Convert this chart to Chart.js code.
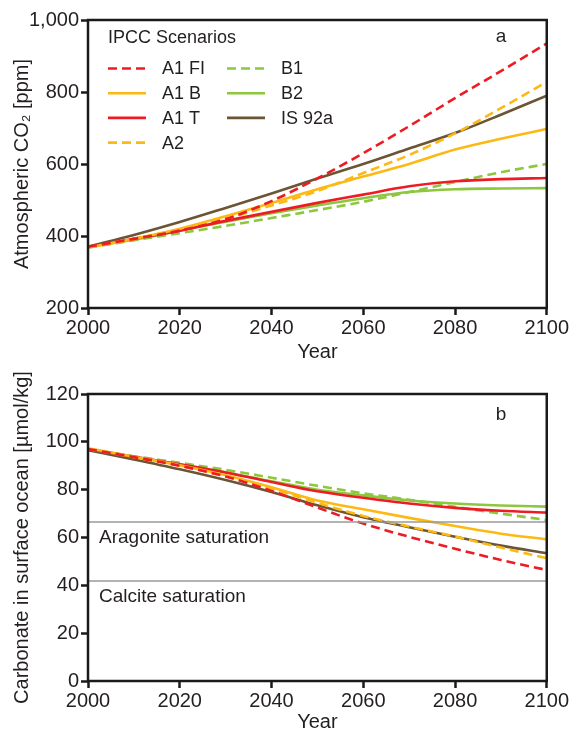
<!DOCTYPE html>
<html>
<head>
<meta charset="utf-8">
<script src="https://cdn.jsdelivr.net/npm/chart.js@4/dist/chart.umd.min.js"></script>
<style>
  html, body { margin: 0; padding: 0; background: #fff; }
  #wrap { position: relative; width: 570px; height: 734px; }
  canvas { position: absolute; left: 0; }
  #co2 { top: 0; }
  #carb { top: 367px; }
</style>
</head>
<body>
<div id="wrap">
  <canvas id="co2" width="570" height="367"></canvas>
  <canvas id="carb" width="570" height="367"></canvas>
</div>
<script>
// years sampled every decade
const years = [2000, 2010, 2020, 2030, 2040, 2050, 2060, 2070, 2080, 2090, 2100];
const xTicks = [2000, 2020, 2040, 2060, 2080, 2100];

// atmospheric CO2 [ppm]
const co2_A1FI = [370, 392, 415, 447, 497, 560, 630, 705, 783, 858, 935];
const co2_A1B  = [368, 392, 420, 455, 492, 530, 565, 600, 640, 670, 697];
const co2_A1T  = [370, 392, 415, 442, 467, 492, 515, 538, 552, 558, 561];
const co2_A2   = [368, 392, 418, 448, 485, 525, 575, 625, 685, 755, 828];
const co2_B1   = [368, 388, 408, 428, 450, 472, 495, 522, 550, 577, 600];
const co2_B2   = [370, 390, 415, 440, 463, 485, 505, 522, 530, 532, 533];
const co2_IS92a = [370, 403, 439, 478, 518, 560, 600, 643, 686, 737, 790];
const co2Ticks = [200, 400, 600, 800, 1000];

// carbonate in surface ocean [umol/kg]
const carb_A1FI = [97, 93.6, 90, 85.5, 79.5, 72.5, 65.8, 60.3, 55.3, 50.6, 46.4];
const carb_A1B  = [97.3, 93.8, 90.2, 86, 81, 75.5, 71.8, 68.2, 64.8, 61.6, 59.2];
const carb_A1T  = [97, 93.8, 90.6, 87.2, 83.2, 79.3, 76.6, 74.2, 72.4, 71.2, 70.4];
const carb_A2   = [97, 93.6, 90, 85.6, 80.5, 74.5, 69, 64.6, 60.4, 55.8, 51.3];
const carb_B1   = [97, 94, 91.2, 88.3, 85, 81.6, 78.5, 75.8, 72.8, 70, 67.3];
const carb_B2   = [97, 93.8, 90.5, 87.3, 83.5, 80, 77.6, 75.5, 74.2, 73.4, 72.9];
const carb_IS92a = [96.5, 92.6, 88.5, 84, 79, 73.5, 68.5, 64.3, 60.3, 56.6, 53.4];
const carbTicks = [0, 20, 40, 60, 80, 100, 120];

const aragonite = 66.5;
const calcite = 41.8;

const RED = '#ed1c24', YEL = '#fdb913', GRN = '#8dc63f', BRN = '#6b5535';
const DASH = [9, 5];
const FONT = '"Liberation Sans", Arial, Helvetica, sans-serif';
const INK = '#231f20';

const scenarios = [
  { label: 'A1 FI', color: RED, dash: DASH, co2: co2_A1FI, carb: carb_A1FI },
  { label: 'A1 B', color: YEL, dash: [], co2: co2_A1B, carb: carb_A1B },
  { label: 'A1 T', color: RED, dash: [], co2: co2_A1T, carb: carb_A1T },
  { label: 'A2', color: YEL, dash: DASH, co2: co2_A2, carb: carb_A2 },
  { label: 'B1', color: GRN, dash: DASH, co2: co2_B1, carb: carb_B1 },
  { label: 'B2', color: GRN, dash: [], co2: co2_B2, carb: carb_B2 },
  { label: 'IS 92a', color: BRN, dash: [], co2: co2_IS92a, carb: carb_IS92a }
];

function pairs(vals) {
  return years.map(function(y, i){ return { x: y, y: vals[i] }; });
}

function makeSets(key) {
  return scenarios.map(function(s){
    return {
      label: s.label,
      data: pairs(s[key]),
      borderColor: s.color,
      borderDash: s.dash,
      borderWidth: 2.6,
      pointRadius: 0,
      fill: false,
      cubicInterpolationMode: 'monotone'
    };
  });
}

// black box round the plot
const frame = {
  id: 'frame',
  afterDatasetsDraw(chart) {
    const a = chart.chartArea, c = chart.ctx;
    c.save();
    c.strokeStyle = '#1a1a1a';
    c.lineWidth = 2.5;
    c.strokeRect(a.left, a.top, a.right - a.left, a.bottom - a.top);
    c.restore();
  }
};

// panel letter in the top right corner
function panelLetter(letter, dy) {
  return {
    id: 'letter' + letter,
    afterDraw(chart) {
      const a = chart.chartArea, c = chart.ctx;
      c.save();
      c.font = '19px ' + FONT;
      c.fillStyle = INK;
      c.textBaseline = 'middle';
      c.fillText(letter, a.right - 51, a.top + dy);
      c.restore();
    }
  };
}

// two-column scenario legend inside panel a
const scenarioLegend = {
  id: 'scenarioLegend',
  afterDraw(chart) {
    const c = chart.ctx;
    c.save();
    c.font = '18px ' + FONT;
    c.fillStyle = INK;
    c.textBaseline = 'middle';
    c.fillText('IPCC Scenarios', 108, 38);
    chart.data.datasets.forEach(function(ds, i){
      const col = i < 4 ? 0 : 1;
      const row = i < 4 ? i : i - 4;
      const x = col === 0 ? 108 : 227;
      const y = 68.5 + row * 24.7;
      c.strokeStyle = ds.borderColor;
      c.lineWidth = 2.6;
      c.setLineDash(ds.borderDash);
      c.beginPath();
      c.moveTo(x, y);
      c.lineTo(x + 38, y);
      c.stroke();
      c.setLineDash([]);
      c.fillText(ds.label, x + 54, y + 1);
    });
    c.restore();
  }
};

// saturation labels under the grey lines
const saturationText = {
  id: 'saturationText',
  afterDraw(chart) {
    const c = chart.ctx, ys = chart.scales.y, a = chart.chartArea;
    c.save();
    c.font = '19px ' + FONT;
    c.fillStyle = INK;
    c.textBaseline = 'middle';
    c.fillText('Aragonite saturation', a.left + 11, ys.getPixelForValue(aragonite) + 16);
    c.fillText('Calcite saturation', a.left + 11, ys.getPixelForValue(calcite) + 16);
    c.restore();
  }
};

function xScale(height, titlePad) {
  return {
    type: 'linear',
    min: 2000, max: 2100,
    afterBuildTicks(s) { s.ticks = xTicks.map(function(v){ return { value: v }; }); },
    afterFit(s) { s.height = height; },
    ticks: {
      callback: function(v){ return String(v); },
      color: INK, font: { family: FONT, size: 20 }, padding: 1, maxRotation: 0
    },
    grid: { drawOnChartArea: false, drawTicks: true, tickLength: 7, tickColor: '#1a1a1a', tickWidth: 2.5, color: '#1a1a1a' },
    border: { display: false },
    title: { display: true, text: 'Year', color: INK, font: { family: FONT, size: 20 }, padding: { top: titlePad, bottom: titlePad } }
  };
}

function yScale(min, max, tickVals, title) {
  return {
    type: 'linear',
    min: min, max: max,
    afterBuildTicks(s) { s.ticks = tickVals.map(function(v){ return { value: v }; }); },
    afterFit(s) { s.width = 88; },
    ticks: {
      callback: function(v){ return v.toLocaleString('en-US'); },
      color: INK, font: { family: FONT, size: 20 }, padding: 2
    },
    grid: { drawOnChartArea: false, drawTicks: true, tickLength: 7, tickColor: '#1a1a1a', tickWidth: 2.5, color: '#1a1a1a' },
    border: { display: false },
    title: { display: true, text: title, color: INK, font: { family: FONT, size: 20 }, padding: { top: 10, bottom: 0 } }
  };
}

const common = {
  responsive: false,
  animation: false,
  plugins: { legend: { display: false }, tooltip: { enabled: false } }
};

new Chart(document.getElementById('co2'), {
  type: 'line',
  data: { datasets: makeSets('co2') },
  options: Object.assign({}, common, {
    layout: { padding: { left: 0, right: 21, top: 20, bottom: 0 } },
    scales: {
      x: xScale(59, 3),
      y: yScale(200, 1000, co2Ticks, 'Atmospheric CO\u2082 [ppm]')
    }
  }),
  plugins: [frame, scenarioLegend, panelLetter('a', 17)]
});

const carbSets = makeSets('carb');
[aragonite, calcite].forEach(function(v){
  carbSets.unshift({
    label: '',
    data: [{ x: 2000, y: v }, { x: 2100, y: v }],
    borderColor: '#9a9a9a',
    borderWidth: 1.5,
    pointRadius: 0
  });
});

new Chart(document.getElementById('carb'), {
  type: 'line',
  data: { datasets: carbSets },
  options: Object.assign({}, common, {
    layout: { padding: { left: 0, right: 21, top: 27, bottom: 0 } },
    scales: {
      x: xScale(53, 0),
      y: yScale(0, 120, carbTicks, 'Carbonate in surface ocean [\u00b5mol/kg]')
    }
  }),
  plugins: [frame, saturationText, panelLetter('b', 21)]
});
</script>
</body>
</html>
